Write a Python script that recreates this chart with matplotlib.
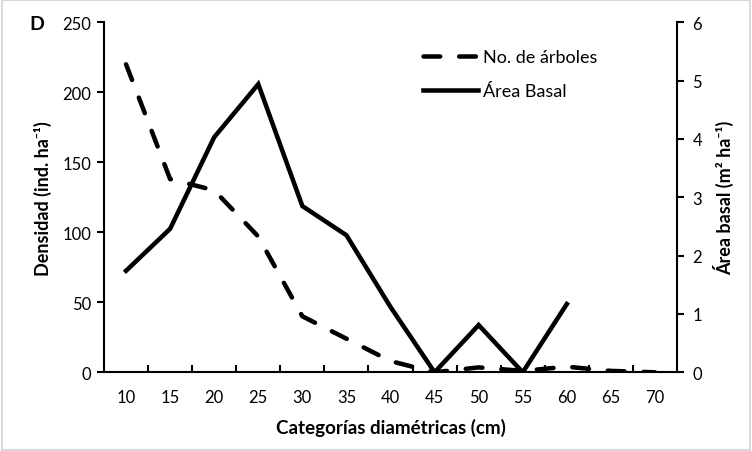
import matplotlib
matplotlib.use("Agg")
import matplotlib.pyplot as plt
from matplotlib.patches import Rectangle
import numpy as np

categories = ["10", "15", "20", "25", "30", "35", "40", "45", "50", "55", "60", "65", "70"]
arboles = [220, 138, 130, 97, 40, 24, 8, 0, 3.5, 1, 4, 1, 0]
area_basal = [1.74, 2.46, 4.03, 4.94, 2.85, 2.35, 1.12, 0, 0.81, 0, 1.17]

plt.rcParams['font.family'] = ['Lato', 'DejaVu Sans']

fig = plt.figure(figsize=(7.52, 4.52), dpi=100)
fig.patches.append(Rectangle((0.002, 0.002), 0.996, 0.996, transform=fig.transFigure,
                             fill=False, edgecolor='#d9d9d9', linewidth=1.5))
ax = fig.add_axes([104/752, 1-373.3/452, (677-104)/752, 350/452])
ax2 = ax.twinx()

x = np.arange(len(categories))
l1, = ax.plot(x, arboles, color='black', lw=3.25, dashes=(3.7, 4.2),
              dash_capstyle='round', label='No. de árboles')
l2, = ax2.plot(x[:len(area_basal)], area_basal, color='black', lw=3.25,
               solid_joinstyle='miter', label='Área Basal')

ax.set_xlim(-0.5, len(categories) - 0.5)
ax.set_ylim(0, 250)
ax2.set_ylim(0, 6)
ax.set_yticks([0, 50, 100, 150, 200, 250])
ax2.set_yticks([0, 1, 2, 3, 4, 5, 6])
ax.set_xticks(x)
ax.set_xticklabels(categories)
ax.set_xticks(np.arange(-0.5, len(categories) + 0.5, 1)[1:-1], minor=True)
ax.tick_params(axis='x', which='major', length=0, labelsize=12, pad=12)
ax.tick_params(axis='x', which='minor', direction='in', length=5, width=1.5)
ax.tick_params(axis='y', direction='out', length=5, width=1.5, labelsize=12, pad=4)
ax2.tick_params(axis='y', direction='out', length=5, width=1.5, labelsize=12, pad=6)

for a in (ax, ax2):
    a.spines['top'].set_visible(False)
    for s in ('left', 'right', 'bottom'):
        a.spines[s].set_linewidth(1.5)
ax.spines['right'].set_visible(False)
ax2.spines['left'].set_visible(False)
ax2.spines['bottom'].set_visible(False)

ax.set_xlabel('Categorías diamétricas (cm)', fontsize=13.5, fontweight='bold', labelpad=9)
ax.set_ylabel('Densidad (ind. ha⁻¹)', fontsize=13, fontweight='bold', labelpad=8)
ax2.set_ylabel('Área basal (m² ha⁻¹)', fontsize=13, fontweight='bold', labelpad=8)

fig.text(37/752, 1-25/452, 'D', fontsize=14, fontweight='bold', ha='center', va='center')

leg = fig.legend([l1, l2], ['No. de árboles', 'Área Basal'], frameon=False,
                 loc='upper left', bbox_to_anchor=(423/752, 1-50/452),
                 bbox_transform=fig.transFigure, fontsize=13,
                 borderpad=0, borderaxespad=0,
                 handlelength=3.05, handletextpad=0.25, labelspacing=1.0)

fig.savefig('out.png', dpi=100)
